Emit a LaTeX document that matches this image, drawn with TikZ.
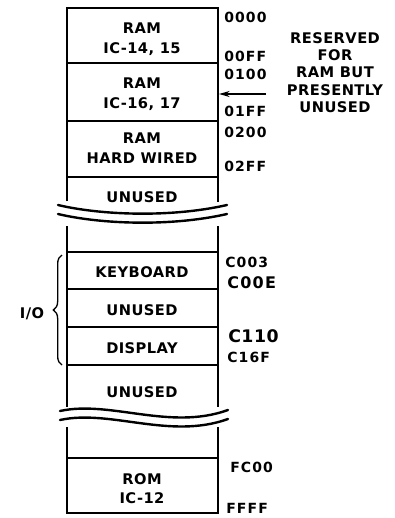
\documentclass[tikz,border=0pt]{standalone}
\usepackage{fontspec}
\usetikzlibrary{arrows.meta,decorations.pathreplacing}
\newfontfamily\labfont[LetterSpace=3]{DejaVu Sans Bold}
\newfontfamily\hexfont[LetterSpace=8]{DejaVu Sans Bold}
\tikzset{
  box/.style={line width=1.5pt, line join=miter},
  wave/.style={line width=1.8pt, line cap=round},
  lbl/.style={inner sep=0pt, anchor=base, font=\labfont\fontsize{11}{13}\selectfont},
  hex/.style={inner sep=0pt, anchor=base west, font=\hexfont\fontsize{10.5}{12}\selectfont},
  hexbig/.style={inner sep=0pt, anchor=base west, font=\hexfont\fontsize{12}{14}\selectfont},
  hexhuge/.style={inner sep=0pt, anchor=base west, font=\labfont\fontsize{13}{15}\selectfont},
}
\begin{document}
\begin{tikzpicture}[x=0.75pt,y=-0.75pt]
\useasboundingbox (0,0) rectangle (395,518);
% box outline
\draw[box] (67,201) -- (67,8) -- (218,8) -- (218,202);
\draw[box] (67,226) -- (67,407);
\draw[box] (218,226) -- (218,407);
\draw[box] (67,427) -- (67,513) -- (218,513) -- (218,427);
% separators
\foreach \yy in {63,121,177,252,289,327,365,458}
  \draw[box] (67,\yy) -- (218,\yy);
% break marks
\draw[wave] (58,205) .. controls (100,215) and (170,218) .. (227,205);
\draw[wave] (58,214) .. controls (100,224) and (170,227) .. (227,214);
\draw[wave] (60,411) .. controls (110,400) and (170,431) .. (228,410);
\draw[wave] (60,420) .. controls (110,409) and (170,440) .. (228,419);
% region labels
\node[lbl] (r1a) at (142,33) {RAM};
\node[lbl] (r1b) at (142,53) {IC-14, 15};
\node[lbl] (r2a) at (142,88) {RAM};
\node[lbl] (r2b) at (142,108) {IC-16, 17};
\node[lbl] (r3a) at (142,143) {RAM};
\node[lbl] (r3b) at (142,163) {HARD WIRED};
\node[lbl] (u1) at (142,202) {UNUSED};
\node[lbl] (kb) at (142,277) {KEYBOARD};
\node[lbl] (u2) at (142,315) {UNUSED};
\node[lbl] (dsp) at (142,353) {DISPLAY};
\node[lbl] (u3) at (142,397) {UNUSED};
\node[lbl] (rom) at (142,484) {ROM};
\node[lbl] (romb) at (142,503) {IC-12};
% addresses
\node[hex] (a0000) at (224,22.5) {0000};
\node[hex] (a00FF) at (224,61) {00FF};
\node[hex] (a0100) at (224,79) {0100};
\node[hex] (a01FF) at (224,116) {01FF};
\node[hex] (a0200) at (224,137) {0200};
\node[hex] (a02FF) at (224,171) {02FF};
\node[hex] (aC003) at (225,267) {C003};
\node[hexbig] (aC00E) at (227,288) {C00E};
\node[hexhuge] (aC110) at (228,342) {C110};
\node[hex] (aC16F) at (227,362) {C16F};
\node[hex] (aFC00) at (230,472) {FC00};
\node[hex] (aFFFF) at (226,513) {FFFF};
% reserved note
\node[lbl] (n1) at (335,43) {RESERVED};
\node[lbl] (n2) at (335,60) {FOR};
\node[lbl] (n3) at (335,77.5) {RAM BUT};
\node[lbl] (n4) at (335,95) {PRESENTLY};
\node[lbl] (n5) at (335,112.5) {UNUSED};
\coordinate (arrtail) at (266,94);
\coordinate (arrhead) at (219,94);
\draw[line width=1.1pt, -{Stealth[length=8pt,width=4.5pt]}] (arrtail) -- (arrhead);
% I/O brace
\coordinate (braceB) at (62,365);
\coordinate (braceT) at (62,255);
\draw[line width=1pt, decorate, decoration={brace, amplitude=6.5pt}] (braceB) -- (braceT);
\node[lbl] (io) at (32,318) {I/O};
\end{tikzpicture}
\end{document}
